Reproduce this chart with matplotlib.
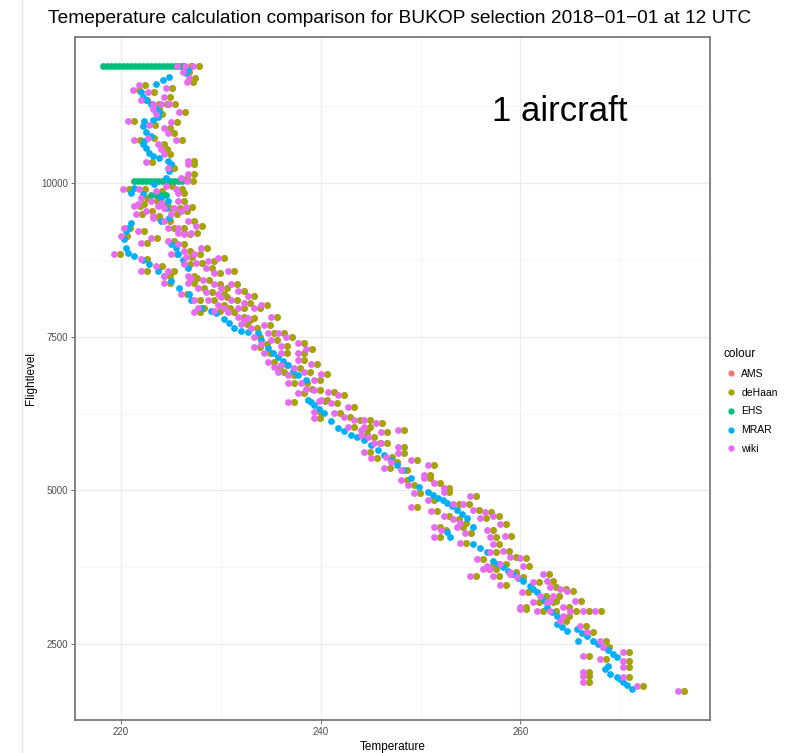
import matplotlib
matplotlib.use("Agg")
import numpy as np
from matplotlib import pyplot as plt
from matplotlib.lines import Line2D

plt.rcParams['font.family'] = ['Liberation Sans', 'DejaVu Sans']

# observation flight levels (shared by AMS, deHaan, wiki)
cluster_fl = [
    11900, 11900, 11900, 11815, 11720, 11650, 11600, 11520, 11490, 11410,
    11360, 11295, 11295, 11295, 11215, 11165, 11120, 11005, 10955, 10890,
    10810, 10730, 10695, 10630, 10550, 10470, 10355, 10310, 10245, 10145,
    10080, 10030, 9900, 9900, 9870, 9840, 9755, 9710, 9710, 9675,
    9660, 9625, 9625, 9595, 9595, 9545, 9500, 9500, 9465, 9430,
    9385, 9385, 9270, 9270, 9270, 9220, 9190, 9190, 9175, 9140,
    9060, 9030, 9010, 8900, 8850, 8850, 8850, 8785, 8770, 8735,
    8690, 8575, 8575, 8575, 8540, 8495, 8495, 8380, 8380, 8365,
    8365, 8300, 8250, 8170, 8140, 8090, 8090, 8010, 8010, 7975,
    7975, 7975, 7975, 7925, 7895, 7815, 7815, 7800, 7765, 7685,
    7650, 7555, 7555, 7490, 7440, 7390, 7330, 7230, 7230, 7230,
    7115, 7085, 7035, 7005, 6985, 6920, 6920, 6875, 6790, 6745,
    6745, 6630, 6600, 6580, 6550, 6470, 6435, 6420, 6355, 6275,
    6260, 6195, 6180, 6145, 6145, 6030, 6030, 5980, 5980, 5900,
    5870, 5770, 5770, 5710, 5625, 5610, 5465, 5415, 5365, 5335,
    5255, 5205, 5170, 5125, 5090, 5040, 4975, 4960, 4850, 4770,
    4770, 4735, 4685, 4655, 4575, 4575, 4555, 4525, 4475, 4410,
    4395, 4360, 4235, 4235, 4150, 4120, 4005, 3990, 3910, 3875,
    3765, 3765, 3715, 3715, 3665, 3635, 3635, 3600, 3585, 3520,
    3505, 3425, 3390, 3360, 3340, 3280, 3280, 3180, 3180, 3100,
    3100, 3065, 3035, 3035, 3035, 3035, 3035, 2950, 2870, 2790,
    2695, 2550, 2450, 2370, 2305, 2255, 2225, 2125, 2045, 1980,
    1965, 1885, 1820, 1740,
    # second pass over the dense part of the band
    8950, 8700, 8620, 8450, 8420, 8300, 8230, 8200, 8100, 8050,
    8200, 7900, 7700, 7500, 7350, 7300, 7050, 6900, 7380, 6650,
    6450, 6100, 5950, 5520, 5500, 5550, 4900, 4650, 4350, 4300,
    4250, 4450, 3600, 3450, 3900, 3800, 3200, 3200, 9900, 9950,
    9620, 9550, 9300, 9100, 8800, 8650, 10700, 11000, 11550, 10350,
]

wiki_t = [
    225.6, 226.4, 227.2, 226.2, 226.8, 226.6, 221.8, 221.2, 222.7, 224.3,
    222.0, 223.2, 224.0, 224.8, 223.2, 225.8, 223.5, 220.7, 222.8, 224.3,
    224.7, 222.7, 221.3, 223.7, 224.0, 224.3, 226.7, 226.7, 224.7, 226.7,
    226.0, 226.6, 220.2, 221.8, 223.5, 225.7, 222.0, 223.0, 225.7, 224.0,
    221.7, 221.3, 223.7, 224.3, 225.3, 226.0, 221.5, 225.0, 223.2, 223.2,
    224.3, 226.7, 220.3, 224.7, 225.7, 221.7, 225.7, 227.0, 226.3, 220.0,
    224.7, 222.0, 225.7, 226.3, 219.3, 225.0, 227.3, 229.7, 222.0, 228.7,
    226.3, 222.0, 224.7, 230.7, 229.3, 224.3, 226.7, 224.3, 226.7, 229.3,
    231.0, 227.7, 231.7, 232.7, 230.0, 227.3, 228.7, 229.7, 234.0, 227.7,
    230.3, 231.7, 233.3, 229.3, 227.3, 231.7, 235.0, 232.7, 232.3, 234.3,
    233.0, 234.7, 235.7, 233.3, 235.0, 237.7, 233.3, 234.3, 236.0, 237.7,
    237.7, 234.7, 236.0, 235.3, 237.3, 235.7, 238.3, 236.7, 239.3, 236.7,
    238.0, 239.3, 240.7, 237.7, 241.7, 240.0, 236.7, 241.0, 242.7, 239.3,
    241.3, 242.3, 239.3, 243.3, 244.3, 242.7, 244.3, 244.0, 247.7, 244.0,
    244.7, 245.3, 246.0, 247.7, 244.3, 247.7, 247.0, 250.7, 246.3, 248.0,
    250.3, 250.3, 248.0, 251.3, 248.7, 252.3, 252.3, 249.3, 250.7, 253.3,
    254.3, 249.0, 255.3, 251.0, 252.3, 257.3, 256.0, 253.3, 254.0, 251.3,
    253.7, 256.7, 251.3, 257.0, 254.0, 257.3, 258.3, 257.0, 259.0, 255.7,
    256.7, 260.3, 256.3, 257.0, 259.0, 259.0, 262.3, 257.3, 259.7, 262.7,
    261.3, 263.0, 264.0, 264.7, 260.2, 262.0, 263.3, 261.3, 262.7, 260.0,
    264.3, 260.0, 261.7, 263.0, 265.0, 266.3, 267.5, 264.3, 264.0, 266.0,
    266.7, 268.0, 268.3, 270.3, 266.3, 268.0, 270.3, 270.3, 266.3, 266.3,
    270.3, 266.3, 271.7, 275.8,
    228.0, 227.5, 228.5, 227.0, 228.2, 230.0, 228.5, 229.7, 231.0, 232.3,
    226.0, 230.7, 232.0, 236.5, 236.0, 238.5, 239.0, 240.0, 234.0, 238.5,
    239.8, 245.5, 246.0, 245.0, 249.0, 246.5, 255.0, 256.5, 252.0, 254.5,
    258.5, 258.0, 255.0, 258.0, 260.0, 258.0, 265.5, 263.0, 225.5, 224.5,
    226.5, 222.5, 227.5, 223.0, 226.5, 223.5, 225.5, 225.0, 224.5, 222.5,
]

dehaan_t = [
    226.2, 227.0, 227.8, 226.8, 227.4, 227.2, 222.4, 221.8, 223.3, 224.9,
    222.6, 223.8, 224.6, 225.4, 223.8, 226.4, 224.1, 221.3, 223.4, 224.9,
    225.3, 223.3, 221.9, 224.3, 224.6, 224.9, 227.3, 227.3, 225.3, 227.3,
    226.6, 227.2, 220.8, 222.4, 224.1, 226.3, 222.6, 223.6, 226.3, 224.6,
    222.3, 221.9, 224.3, 224.9, 225.9, 226.6, 222.1, 225.6, 223.8, 223.8,
    224.9, 227.3, 220.9, 225.3, 226.3, 222.3, 226.3, 227.6, 226.9, 220.6,
    225.3, 222.6, 226.3, 226.9, 219.9, 225.6, 227.9, 230.3, 222.6, 229.3,
    226.9, 222.6, 225.3, 231.3, 229.9, 224.9, 227.3, 224.9, 227.3, 229.9,
    231.6, 228.3, 232.3, 233.3, 230.6, 227.9, 229.3, 230.3, 234.6, 228.3,
    230.9, 232.3, 233.9, 229.9, 227.9, 232.3, 235.6, 233.3, 232.9, 234.9,
    233.6, 235.3, 236.3, 233.9, 235.6, 238.3, 233.9, 234.9, 236.6, 238.3,
    238.3, 235.3, 236.6, 235.9, 237.9, 236.3, 238.9, 237.3, 239.9, 237.3,
    238.6, 239.9, 241.3, 238.3, 242.3, 240.6, 237.3, 241.6, 243.3, 239.9,
    241.9, 242.9, 239.9, 243.9, 244.9, 243.3, 244.9, 244.6, 248.3, 244.6,
    245.3, 245.9, 246.6, 248.3, 244.9, 248.3, 247.6, 251.3, 246.9, 248.6,
    250.9, 250.9, 248.6, 251.9, 249.3, 252.9, 252.9, 249.9, 251.3, 253.9,
    254.9, 249.6, 255.9, 251.6, 252.9, 257.9, 256.6, 253.9, 254.6, 251.9,
    254.3, 257.3, 251.9, 257.6, 254.6, 257.9, 258.9, 257.6, 259.6, 256.3,
    257.3, 260.9, 256.9, 257.6, 259.6, 259.6, 262.9, 257.9, 260.3, 263.3,
    261.9, 263.6, 264.6, 265.3, 260.8, 262.6, 263.9, 261.9, 263.3, 260.6,
    264.9, 260.6, 262.3, 263.6, 265.6, 266.9, 268.1, 264.9, 264.6, 266.6,
    267.3, 268.6, 268.9, 270.9, 266.9, 268.6, 270.9, 270.9, 266.9, 266.9,
    270.9, 266.9, 272.3, 276.4,
    228.6, 228.1, 229.1, 227.6, 228.8, 230.6, 229.1, 230.3, 231.6, 232.9,
    226.6, 231.3, 232.6, 237.1, 236.6, 239.1, 239.6, 240.6, 234.6, 239.1,
    240.4, 246.1, 246.6, 245.6, 249.6, 247.1, 255.6, 257.1, 252.6, 255.1,
    259.1, 258.6, 255.6, 258.6, 260.6, 258.6, 266.1, 263.6, 226.1, 225.1,
    227.1, 223.1, 228.1, 223.6, 227.1, 224.1, 226.1, 225.6, 225.1, 223.1,
]

# AMS sits under deHaan everywhere
ams_t = dehaan_t
ams_fl = cluster_fl

# EHS only differs visibly along the level legs
ehs_t = [
    218.2, 218.6, 219.0, 219.4, 219.8, 220.2, 220.6, 221.0, 221.4, 221.8,
    222.2, 222.6, 223.0, 223.4, 223.8, 224.2, 224.6, 225.0, 225.4, 225.8,
    226.2,
    221.3, 221.7, 222.1, 222.5, 222.9, 223.3, 223.7, 224.1, 224.5, 224.9,
    225.3, 225.7, 226.1,
    223.0, 223.5, 224.0, 224.5,
]
ehs_fl = [
    11900, 11900, 11900, 11900, 11900, 11900, 11900, 11900, 11900, 11900,
    11900, 11900, 11900, 11900, 11900, 11900, 11900, 11900, 11900, 11900,
    11900,
    10030, 10030, 10030, 10030, 10030, 10030, 10030, 10030, 10030, 10030,
    10030, 10030, 10030,
    9800, 9800, 9800, 9800,
]

mrar_t = [
    226.7, 226.5, 224.8, 224.2, 223.5, 222.0, 222.2, 222.5, 223.0, 223.5,
    223.8, 223.7, 223.2, 222.3, 222.2, 222.5, 223.0, 222.3, 222.2, 222.5,
    222.8, 223.2, 223.8, 224.7, 225.0, 224.8, 224.5, 223.3, 221.3, 221.0,
    222.2, 224.0, 224.7, 224.5, 224.8, 224.0, 221.0, 220.7, 220.5, 220.3,
    225.0, 220.5, 220.7, 225.7, 221.3, 222.2, 222.8, 226.7, 223.7, 224.3,
    225.0, 225.8, 226.8, 227.0, 228.0, 229.0, 230.3, 231.3, 232.7, 233.7,
    234.0, 234.7, 235.7, 236.7, 237.7, 238.5, 238.7, 239.3, 240.3, 241.7,
    243.0, 244.3, 245.7, 247.0, 248.2, 249.0, 249.8, 250.7, 251.7, 252.7,
    253.7, 254.7, 255.3, 252.7, 253.0, 255.3, 256.7, 257.3, 258.3, 259.3,
    260.3, 261.0, 261.7, 262.5, 262.7, 263.7, 263.7, 265.7, 264.7, 266.7,
    265.8, 267.3, 268.3, 269.3, 269.7, 268.8, 268.5, 269.0, 269.7, 270.3,
    271.2,
    229.5, 230.8, 232.0, 235.2, 236.2, 237.2, 239.0, 239.8, 241.0, 242.3,
    243.6, 245.0, 246.3, 247.6, 251.2, 252.2, 253.2, 254.2, 256.0, 257.8,
    258.8, 259.8, 261.3, 262.1, 263.2, 264.2, 266.2, 267.8, 268.8, 270.7,
    270.0, 225.5, 226.2,
]
mrar_fl = [
    11850, 11800, 11735, 11685, 11620, 11490, 11410, 11360, 11295, 11215,
    11165, 11085, 11035, 11005, 10925, 10840, 10760, 10680, 10630, 10565,
    10485, 10435, 10405, 10355, 10310, 10195, 10080, 9985, 9920, 9840,
    9820, 9755, 9710, 9595, 9430, 9385, 9350, 9270, 9220, 9095,
    9010, 8945, 8865, 8850, 8815, 8750, 8690, 8625, 8575, 8495,
    8410, 8300, 8200, 8090, 7975, 7925, 7795, 7650, 7570, 7555,
    7440, 7310, 7165, 7035, 6875, 6790, 6470, 6390, 6260, 6015,
    5900, 5820, 5660, 5495, 5335, 5205, 5060, 4980, 4880, 4800,
    4685, 4555, 4410, 4315, 4235, 4120, 3990, 3845, 3745, 3635,
    3520, 3440, 3340, 3195, 3100, 2950, 2825, 2740, 2710, 2630,
    2550, 2550, 2450, 2340, 2290, 2145, 2095, 2015, 1965, 1885,
    1770,
    7880, 7720, 7600, 7240, 7100, 6950, 6430, 6320, 6130, 5960,
    5860, 5740, 5580, 5410, 4930, 4840, 4740, 4620, 4060, 3800,
    3690, 3580, 3390, 3270, 3020, 2770, 2680, 2500, 2400, 1830,
    1920, 8950, 8750,
]

series_names = ['AMS', 'deHaan', 'EHS', 'MRAR', 'wiki']
series_colors = ['#F8766D', '#A3A500', '#00BF7D', '#00B0F6', '#E76BF3']

fig = plt.figure(figsize=(8, 7.53), dpi=100)
ax = fig.add_axes([0.094, 0.0438, 0.7935, 0.9071])

series = [(ams_t, ams_fl), (dehaan_t, cluster_fl), (ehs_t, ehs_fl),
          (mrar_t, mrar_fl), (wiki_t, cluster_fl)]
for (t, fl), c in zip(series, series_colors):
    ax.scatter(t, fl, s=24, color=c, linewidths=0, zorder=3)

ax.set_xlim(215.4, 279.0)
ax.set_ylim(1260, 12380)
ax.set_xticks([220, 240, 260])
ax.set_xticks([230, 250, 270], minor=True)
ax.set_yticks([2500, 5000, 7500, 10000])
ax.set_yticks([3750, 6250, 8750, 11250], minor=True)
ax.grid(which='major', color='#EBEBEB', linewidth=0.9, zorder=0)
ax.grid(which='minor', color='#F3F3F3', linewidth=0.5, zorder=0)
ax.set_axisbelow(True)
ax.tick_params(which='major', length=3, width=0.6, color='#555555',
               labelsize=7, labelcolor='#4D4D4D', pad=2)
ax.tick_params(which='minor', length=0)
for sp in ax.spines.values():
    sp.set_color('#7A7A7A')
    sp.set_linewidth(1.3)

ax.set_xlabel('Temperature', fontsize=8.5, labelpad=3)
ax.set_ylabel('Flightlevel', fontsize=8.5, labelpad=3)

ax.text(263.9, 11170, '1 aircraft', fontsize=25, ha='center', va='center')

fig.text(0.499, 0.976,
         'Temeperature calculation comparison for BUKOP selection 2018\u221201\u221201 at 12 UTC',
         fontsize=13.8, ha='center', va='center')

# faint screenshot edge on the left
fig.add_artist(Line2D([0.028, 0.028], [0.0, 1.0], color='#E6E6E6', linewidth=1.0))

handles = [Line2D([], [], marker='o', linestyle='', markersize=4.5,
                  markerfacecolor=c, markeredgewidth=0) for c in series_colors]
leg = ax.legend(handles, series_names, title='colour', loc='upper left',
                bbox_to_anchor=(0.898, 0.545), bbox_transform=fig.transFigure,
                frameon=False, fontsize=7.5, title_fontsize=8.5,
                handletextpad=0.2, labelspacing=0.85, handlelength=1.5,
                alignment='left', borderpad=0)

fig.savefig('out.png', dpi=100)
